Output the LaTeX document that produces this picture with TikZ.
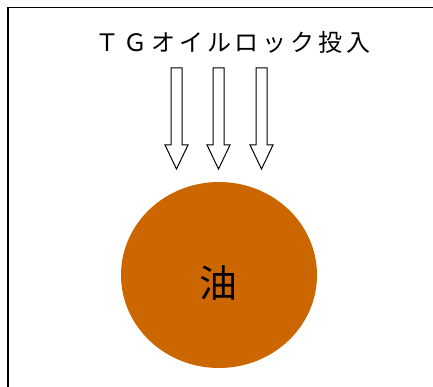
\documentclass[tikz,border=0pt]{standalone}
\usepackage{fontspec}
\usetikzlibrary{shapes.geometric}
\newfontfamily\jpfont{Noto Sans CJK JP}
\definecolor{oilorange}{HTML}{CC6600}
\begin{document}
\begin{tikzpicture}[x=1pt,y=-1pt,
  frameline/.style={line width=1.5pt,black},
  blockarrow/.style={draw=black,fill=white,line width=1pt,line join=miter},
  titletext/.style={inner sep=0pt,font=\jpfont\fontsize{24}{24}\selectfont\addfontfeature{LetterSpace=16}},
  oiltext/.style={inner sep=0pt,font=\jpfont\fontsize{38}{38}\selectfont}]
\useasboundingbox (0,0) rectangle (433,387);
% frame (left and top edges visible)
\draw[frameline] (8,387) -- (8,7.5) -- (433,7.5);
% title
\node[titletext] (title) at (233,42) {ＴＧオイルロック投入};
% three block arrows
\foreach \cx [count=\i] in {176.5,218.5,261.5}{
  \draw[blockarrow] (\cx-5.5,68) -- (\cx+5.5,68) -- (\cx+5.5,145) -- (\cx+11.5,145)
     -- (\cx,169) -- (\cx-11.5,145) -- (\cx-5.5,145) -- cycle;
}
% oil ellipse
\node[ellipse,fill=oilorange,minimum width=196pt,minimum height=186pt,inner sep=0pt] (oil) at (219,275) {};
\node[oiltext] (oillabel) at (218,283) {油};
\end{tikzpicture}
\end{document}
